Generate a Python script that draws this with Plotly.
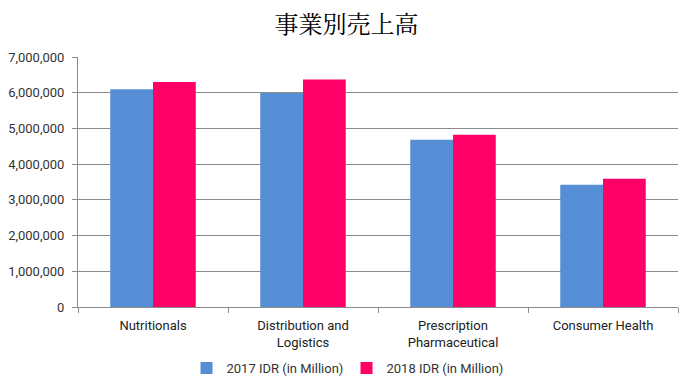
import plotly.graph_objects as go

categories = ["Nutritionals", "Distribution and<br>Logistics", "Prescription<br>Pharmaceutical", "Consumer Health"]
sales_2017 = [6100000, 5990000, 4680000, 3420000]
sales_2018 = [6300000, 6370000, 4820000, 3590000]
series_names = ["2017 IDR (in Million)", "2018 IDR (in Million)"]
y_ticks = [0, 1000000, 2000000, 3000000, 4000000, 5000000, 6000000, 7000000]

fig = go.Figure()
fig.add_trace(go.Bar(x=categories, y=sales_2017, name=series_names[0], marker=dict(color="#558ED5", line=dict(width=0))))
fig.add_trace(go.Bar(x=categories, y=sales_2018, name=series_names[1], marker=dict(color="#FF0066", line=dict(width=0))))

fig.update_layout(
    width=693, height=388,
    margin=dict(l=78, r=15, t=57, b=81, autoexpand=False),
    paper_bgcolor="white", plot_bgcolor="white",
    barmode="group", bargap=0.43, bargroupgap=0,
    title=dict(text="事業別売上高", x=0.5, xref="container", xanchor="center",
               y=1 - 25 / 388, yref="container", yanchor="middle",
               font=dict(family="Noto Serif CJK JP, Noto Sans CJK JP, serif", size=24, color="#000000")),
    font=dict(family="Roboto, sans-serif", size=13, color="#333333"),
    legend=dict(orientation="h", x=0.5, xref="container", xanchor="center",
                y=-0.244, yref="paper", yanchor="middle",
                font=dict(size=13, color="#333333"), itemwidth=30, traceorder="normal",
                entrywidth=115, entrywidthmode="pixels"),
    showlegend=True,
)
fig.update_yaxes(range=[0, 7000000], tickvals=y_ticks, tickformat=",d",
                 showgrid=True, gridcolor="#8C8C8C", gridwidth=1,
                 showline=True, linecolor="#8C8C8C", linewidth=1,
                 ticks="outside", ticklen=5, tickcolor="#8C8C8C", zeroline=False,
                 ticklabelstandoff=5, automargin=False,
                 tickfont=dict(size=13, color="#333333"))
fig.update_xaxes(showline=True, linecolor="#8C8C8C", linewidth=1,
                 ticks="outside", ticklen=5, tickcolor="#8C8C8C", tickson="boundaries",
                 ticklabelstandoff=6, automargin=False,
                 tickfont=dict(size=13, color="#222222"))

fig.write_html("out.html", config={"displayModeBar": False},
               post_script="document.body.style.margin='0';document.body.style.overflow='hidden';")
